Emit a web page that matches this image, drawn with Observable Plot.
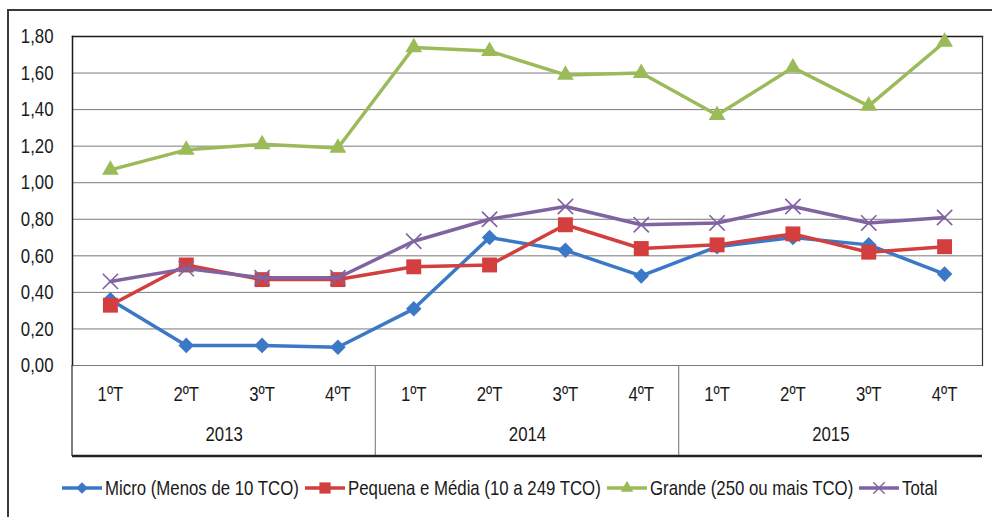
<!DOCTYPE html>
<html>
<head>
<meta charset="utf-8">
<script src="https://cdn.jsdelivr.net/npm/d3@7"></script>
<script src="https://cdn.jsdelivr.net/npm/@observablehq/plot@0.6"></script>
<style>
  html, body { margin: 0; padding: 0; background: #fff; overflow: hidden; }
  body { width: 992px; height: 517px; position: relative; font-family: "Liberation Sans", Arial, sans-serif; }
  #border { position: absolute; left: 7px; top: 9px; width: 1010px; height: 540px; border: 2px solid #3a3a3a; box-sizing: border-box; }
  #chart { position: absolute; left: 0; top: 0; }
  #legend { position: absolute; left: 6px; top: 475px; width: 992px; height: 26px; display: flex; justify-content: center; align-items: center; font-size: 21px; color: #1a1a1a; }
  .item { display: flex; align-items: center; margin-right: 5px; white-space: nowrap; }
  .item svg { margin-right: 2px; flex: none; }
  .item span { display: inline-block; transform-origin: left center; }
</style>
</head>
<body>
<div id="border"></div>
<div id="chart"></div>
<div id="legend"></div>
<script>
// Quarterly series, 2013–2015
const years = ["2013", "2014", "2015"];
const quarters = ["1ºT", "2ºT", "3ºT", "4ºT"];
const seriesNames = ["Micro (Menos de 10 TCO)", "Pequena e Média (10 a 249 TCO)", "Grande (250 ou mais TCO)", "Total"];
const micro  = [0.36, 0.11, 0.11, 0.10, 0.31, 0.70, 0.63, 0.49, 0.65, 0.70, 0.66, 0.50];
const pme    = [0.33, 0.55, 0.47, 0.47, 0.54, 0.55, 0.77, 0.64, 0.66, 0.72, 0.62, 0.65];
const grande = [1.07, 1.18, 1.21, 1.19, 1.74, 1.72, 1.59, 1.60, 1.37, 1.63, 1.42, 1.77];
const total  = [0.46, 0.53, 0.48, 0.48, 0.68, 0.80, 0.87, 0.77, 0.78, 0.87, 0.78, 0.81];
const yTicks = [0, 0.2, 0.4, 0.6, 0.8, 1.0, 1.2, 1.4, 1.6, 1.8];

const colors  = ["#3b79c6", "#d23f3e", "#9bbb59", "#8064a2"];
const symbols = ["diamond2", "square2", "triangle2", "times"];
const radii   = [7, 9.5, 8, 7];

const NARROW = 0.8; // horizontal squeeze giving a condensed face
const FS = 21;
const periodLabels = years.flatMap(() => quarters);
const seriesValues = [micro, pme, grande, total];
const rows = seriesValues.map((vals, s) => vals.map((v, i) => ({ i, v, s })));
const yearRows = years.map((y, k) => ({ year: y, center: k * quarters.length + (quarters.length - 1) / 2 }));

const fmt = d => d3.format(".2f")(d).replace(".", ",");
const FONT = '"Liberation Sans", Arial, sans-serif';

const seriesMarks = rows.flatMap((data, s) => [
  Plot.lineY(data, { x: "i", y: "v", stroke: colors[s], strokeWidth: 3.5 }),
  s === 3
    ? Plot.dot(data, { x: "i", y: "v", symbol: symbols[s], r: radii[s], stroke: colors[s], strokeWidth: 1.6 })
    : Plot.dot(data, { x: "i", y: "v", symbol: symbols[s], r: radii[s], fill: colors[s] })
]);

const plot = Plot.plot({
  width: 992,
  height: 470,
  marginLeft: 72,
  marginRight: 10,
  marginTop: 36,
  marginBottom: 105,
  style: { fontFamily: FONT, fontSize: `${FS}px`, color: "#1a1a1a", background: "transparent" },
  x: { type: "linear", domain: [-0.5, periodLabels.length - 0.5] },
  y: { domain: [0, 1.8] },
  marks: [
    Plot.gridY(yTicks.slice(1, -1), { stroke: "#7a7a7a", strokeOpacity: 1, strokeWidth: 1 }),
    Plot.ruleY([0], { stroke: "#7a7a7a", strokeWidth: 1.2 }),
    Plot.frame({ anchor: "top", stroke: "#1a1a1a", strokeWidth: 1.5 }),
    Plot.frame({ anchor: "left", stroke: "#1a1a1a", strokeWidth: 1.5 }),
    Plot.frame({ anchor: "right", stroke: "#333", strokeWidth: 1.2 }),
    Plot.axisY(yTicks, { tickSize: 0, tickPadding: 19, tickFormat: fmt, fontSize: FS, label: null }),
    Plot.axisX(d3.range(periodLabels.length), { tickSize: 0, tickPadding: 21, tickFormat: i => periodLabels[i], fontSize: FS, label: null }),
    Plot.text(yearRows, { x: "center", text: "year", frameAnchor: "bottom", dy: 75, fontSize: FS, fill: "#1a1a1a" }),
    ...seriesMarks
  ]
});
document.getElementById("chart").appendChild(plot);

// Condense every label horizontally about its own anchor point
d3.select(plot).selectAll("text").each(function () {
  const ax = +(this.getAttribute("x") || 0);
  const t = this.getAttribute("transform") || "";
  this.setAttribute("transform", `${t} translate(${ax},0) scale(${NARROW},1) translate(${-ax},0)`);
});

// Category table lines under the plot area
const xs = plot.scale("x");
const svg = d3.select(plot);
const yTop = 36 + 329, yBot = 456;
const g = svg.append("g").attr("stroke", "#555");
g.append("line").attr("x1", 72).attr("x2", 72).attr("y1", yTop).attr("y2", yBot).attr("stroke-width", 1.5);
years.slice(1).forEach((_, k) => {
  const xv = xs.apply((k + 1) * quarters.length - 0.5);
  g.append("line").attr("x1", xv).attr("x2", xv).attr("y1", yTop).attr("y2", yBot).attr("stroke-width", 1.2).attr("stroke", "#888");
});
g.append("line").attr("x1", 72).attr("x2", 992 - 10).attr("y1", yBot).attr("y2", yBot).attr("stroke", "#222").attr("stroke-width", 2.5);

// Legend with line + marker swatches
const legend = d3.select("#legend");
seriesNames.forEach((name, s) => {
  const item = legend.append("div").attr("class", "item");
  const sw = item.append("svg").attr("width", 42).attr("height", 20);
  sw.append("line").attr("x1", 1).attr("x2", 41).attr("y1", 10).attr("y2", 10).attr("stroke", colors[s]).attr("stroke-width", 3.5);
  const sym = d3.symbol(d3["symbol" + symbols[s][0].toUpperCase() + symbols[s].slice(1)], Math.PI * (radii[s] * 0.75) ** 2);
  sw.append("path").attr("d", sym()).attr("transform", "translate(21,10)")
    .attr("fill", s === 3 ? "none" : colors[s]).attr("stroke", s === 3 ? colors[s] : "none").attr("stroke-width", 1.4);
  const span = item.append("span").text(name).style("transform", `scaleX(${NARROW})`);
  const w = span.node().offsetWidth;
  span.style("margin-right", `${-w * (1 - NARROW)}px`);
});
</script>
</body>
</html>
